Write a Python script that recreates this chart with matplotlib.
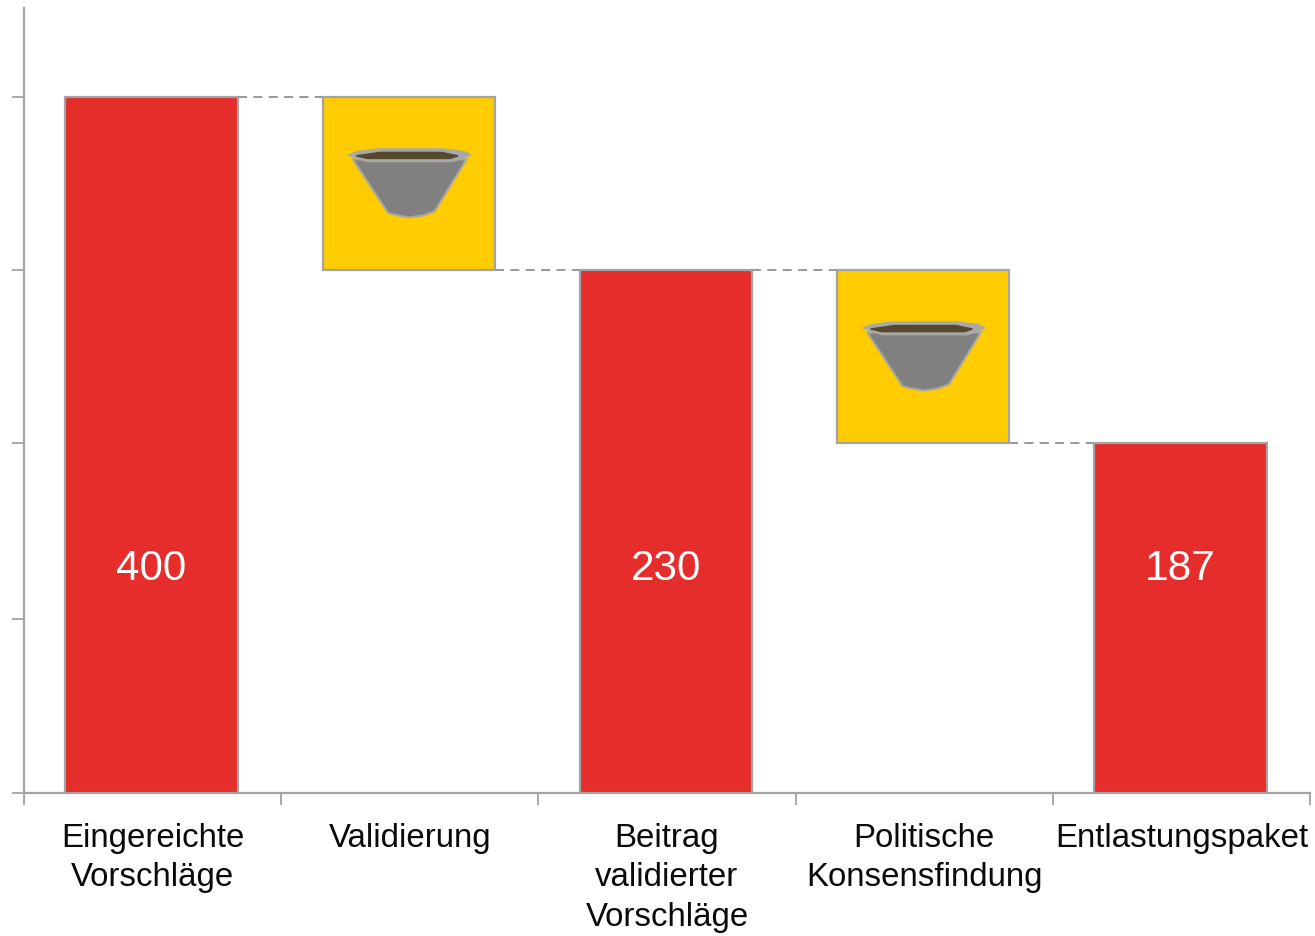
import matplotlib
matplotlib.use("Agg")
import matplotlib.pyplot as plt
from matplotlib.patches import Polygon
import numpy as np

W, H = 1315, 936
plt.rcParams['font.family'] = ['Liberation Sans', 'DejaVu Sans']

categories = ["Eingereichte\nVorschläge", "Validierung", "Beitrag\nvalidierter\nVorschläge",
              "Politische\nKonsensfindung", "Entlastungspaket"]
# drawn heights follow the picture's axis, not the printed labels
bar_top = [400, 400, 300.5, 300.5, 201]
bar_bottom = [0, 300.5, 0, 201, 0]
bar_labels = ["400", "", "230", "", "187"]
is_step = [False, True, False, True, False]
y_ticks = [0, 100, 201, 300.5, 400]
LABEL_Y = 129

RED = "#e52d2b"
YELLOW = "#ffcc00"
EDGE = "#a3a3a3"

# funnel icon, as fractions of the step box
FUNNEL_BODY = [(0.175, 0.64), (0.38, 0.33), (0.44, 0.315), (0.5, 0.305), (0.58, 0.315), (0.65, 0.34), (0.835, 0.64)]
FUNNEL_RIM = [(0.15, 0.665), (0.20, 0.685), (0.32, 0.70), (0.70, 0.70), (0.82, 0.685), (0.86, 0.665), (0.757, 0.627), (0.26, 0.627)]
FUNNEL_HOLE = [(0.195, 0.66), (0.33, 0.68), (0.69, 0.68), (0.786, 0.66), (0.74, 0.645), (0.26, 0.645)]


def draw_funnel(ax, x0, width, y0, height):
    def scale(shape):
        return [(x0 + fx * width, y0 + fy * height) for fx, fy in shape]
    ax.add_patch(Polygon(scale(FUNNEL_BODY), closed=True, fc="#808080", ec="#a8a8a0", lw=1.5, zorder=4))
    ax.add_patch(Polygon(scale(FUNNEL_RIM), closed=True, fc="#a8a8a8", ec="#a8a8a8", lw=1, zorder=5))
    ax.add_patch(Polygon(scale(FUNNEL_HOLE), closed=True, fc="#55482c", ec="#55482c", lw=1, zorder=6))


fig = plt.figure(figsize=(W / 100, H / 100), dpi=100)
# axes box in picture pixels
left, right, top, bottom = 24, 1310, 8, 793
ax = fig.add_axes([left / W, 1 - bottom / H, (right - left) / W, (bottom - top) / H])

x = np.arange(len(categories))
BAR_W = 0.67
BAR_SHIFT = -0.004
heights = [t - b for t, b in zip(bar_top, bar_bottom)]
colors = [YELLOW if s else RED for s in is_step]
ax.bar(x + BAR_SHIFT, heights, BAR_W, bottom=bar_bottom, color=colors, edgecolor=EDGE, linewidth=1.6, zorder=3)

# dashed connectors between neighbouring columns
for i in range(len(x) - 1):
    level = bar_bottom[i] if is_step[i] else bar_top[i]
    ax.plot([x[i] + BAR_SHIFT + BAR_W / 2, x[i + 1] + BAR_SHIFT - BAR_W / 2], [level, level],
            color="#909090", lw=1.3, ls=(0, (5, 3.5)), zorder=2)

for i, lab in enumerate(bar_labels):
    if lab:
        ax.text(x[i] + BAR_SHIFT, LABEL_Y, lab, color="white", fontsize=30.4, ha="center", va="center", zorder=5)
    else:
        draw_funnel(ax, x[i] + BAR_SHIFT - BAR_W / 2, BAR_W, bar_bottom[i], heights[i])

ax.set_xlim(-0.5, len(categories) - 0.5)
ax.set_ylim(0, (bottom - top) / (bottom - 97) * 400)
for s in ("top", "right"):
    ax.spines[s].set_visible(False)
for s in ("left", "bottom"):
    ax.spines[s].set_color(EDGE)
    ax.spines[s].set_linewidth(1.6)

ax.set_yticks(y_ticks)
ax.set_yticklabels([])
ax.tick_params(axis="y", length=8.5, width=1.3, color=EDGE)
ax.set_xticks(np.arange(len(categories) + 1) - 0.5)
ax.set_xticklabels([])
ax.tick_params(axis="x", which="major", length=8.5, width=1.3, color=EDGE)
ax.set_xticks(x, minor=True)
ax.set_xticklabels(categories, minor=True, fontsize=23.8, color="#0a0a0a", linespacing=1.35)
ax.tick_params(axis="x", which="minor", length=0, pad=21.5)
ax.patch.set_visible(False)

fig.savefig("out.png", dpi=100, facecolor="white")
